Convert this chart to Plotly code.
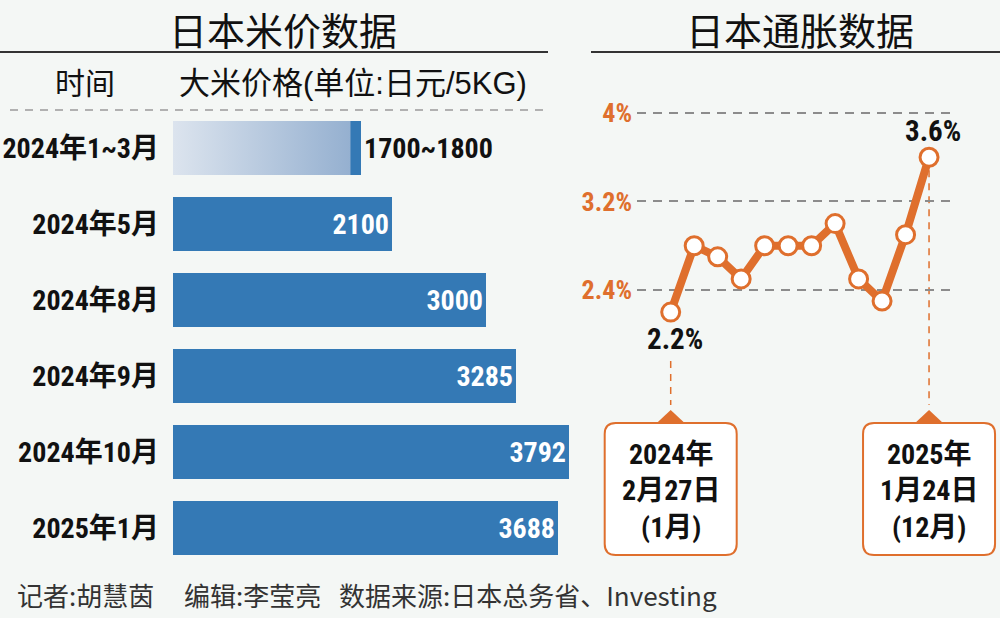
import plotly.graph_objects as go

W, H = 1000, 618

# ---------------- data ----------------
periods = ["2024年1~3月", "2024年5月", "2024年8月", "2024年9月", "2024年10月", "2025年1月"]
price_low = [1700, 2100, 3000, 3285, 3792, 3688]
price_high = [1800, 2100, 3000, 3285, 3792, 3688]

cpi_months = ["2024-01", "2024-02", "2024-03", "2024-04", "2024-05", "2024-06",
              "2024-07", "2024-08", "2024-09", "2024-10", "2024-11", "2024-12"]
cpi_values = [2.2, 2.8, 2.7, 2.5, 2.8, 2.8, 2.8, 3.0, 2.5, 2.3, 2.9, 3.6]
cpi_ticks = [2.4, 3.2, 4.0]
cpi_tick_text = ["2.4%", "3.2%", "4%"]

callout_index = [0, 11]
callout_lines = [["2024年", "2月27日", "(1月)"], ["2025年", "1月24日", "(12月)"]]

titles = ["日本米价数据", "日本通胀数据"]
headers = ["时间", "大米价格(单位:日元/5KG)"]
credits = ["记者:胡慧茵", "编辑:李莹亮", "数据来源:日本总务省、Investing"]

# ---------------- style ----------------
BG = "#F4F7F5"
BLUE = "#3479B5"
ORANGE = "#DF6F2D"
DASH_GRAY = "#9A9A9A"
INK = "#111111"
NARROW = "Roboto Condensed, Noto Sans CJK SC, sans-serif"
SANS = "Liberation Sans, Arial, Noto Sans CJK SC, sans-serif"
CJK = "Noto Sans CJK SC, sans-serif"


def px(x):
    return x / W


def py(y):
    return 1 - y / H


# bar panel geometry
BX_D = [0.173, 0.173 + 3800 * 0.1044 / W]
BX_R = [0, 3800]
BY_D = [py(566), py(110)]
BAR_W = 0.71

# line panel geometry
LX_D = [0.637, 0.953]
LX_R = [-1.435, 12.02]
LY_D = [py(330), py(100)]
LY_R = [2.0383, 4.1175]


def x2paper(i):
    return LX_D[0] + (i - LX_R[0]) / (LX_R[1] - LX_R[0]) * (LX_D[1] - LX_D[0])


def y2paper(v):
    return LY_D[0] + (v - LY_R[0]) / (LY_R[1] - LY_R[0]) * (LY_D[1] - LY_D[0])


fig = go.Figure()

# gradient part of range bars (0 -> low end)
gx, gy = [], []
for i, (lo, hi) in enumerate(zip(price_low, price_high)):
    if lo != hi:
        gx += [0, lo, lo, 0, 0, None]
        gy += [i - BAR_W / 2, i - BAR_W / 2, i + BAR_W / 2, i + BAR_W / 2, i - BAR_W / 2, None]
fig.add_trace(go.Scatter(
    x=gx, y=gy, mode="lines", fill="toself", line=dict(width=0, color="rgba(0,0,0,0)"),
    fillgradient=dict(type="horizontal", colorscale=[[0, "#DCE4EE"], [1, "#95B0D0"]]),
    hoverinfo="skip", showlegend=False, xaxis="x", yaxis="y",
))

bases = [lo if lo != hi else 0 for lo, hi in zip(price_low, price_high)]
lengths = [hi - b for hi, b in zip(price_high, bases)]
labels = [f"{lo}~{hi}" if lo != hi else f"{hi}" for lo, hi in zip(price_low, price_high)]
positions = ["outside" if lo != hi else "inside" for lo, hi in zip(price_low, price_high)]

fig.add_trace(go.Bar(
    y=list(range(len(periods))), x=lengths, base=bases, orientation="h", width=BAR_W,
    marker=dict(color=BLUE, line=dict(width=0)),
    text=labels, textposition=positions, insidetextanchor="end", textangle=0,
    insidetextfont=dict(family=NARROW, size=28, color="white", weight="bold"),
    outsidetextfont=dict(family=NARROW, size=28, color=INK, weight="bold"),
    constraintext="none", cliponaxis=False, hoverinfo="skip", showlegend=False,
    xaxis="x", yaxis="y",
))

fig.add_trace(go.Scatter(
    x=list(range(len(cpi_months))), y=cpi_values, mode="lines+markers",
    line=dict(color=ORANGE, width=8),
    marker=dict(size=18, color="white", line=dict(color=ORANGE, width=3)),
    cliponaxis=False, hoverinfo="skip", showlegend=False, xaxis="x2", yaxis="y2",
))

annotations = []
# titles
for t, cx in zip(titles, [283, 800]):
    annotations.append(dict(text=t, x=px(cx), y=py(28), xref="paper", yref="paper",
                            xanchor="center", yanchor="middle", showarrow=False,
                            font=dict(family=CJK, size=38, color=INK)))
# headers
annotations.append(dict(text=headers[0], x=px(85), y=py(84), xref="paper", yref="paper",
                        xanchor="center", yanchor="middle", showarrow=False,
                        font=dict(family=SANS, size=30, color=INK)))
annotations.append(dict(text=headers[1], x=px(177), y=py(84), xref="paper", yref="paper",
                        xanchor="left", yanchor="middle", showarrow=False,
                        font=dict(family=SANS, size=31, color=INK)))
# first / last inflation labels
annotations.append(dict(text=f"{cpi_values[0]}%", x=0, y=cpi_values[0], xref="x2", yref="y2",
                        xanchor="center", yanchor="middle", yshift=-27, xshift=4, showarrow=False,
                        font=dict(family=NARROW, size=29, color=INK, weight="bold")))
annotations.append(dict(text=f"{cpi_values[-1]}%", x=len(cpi_values) - 1, y=cpi_values[-1],
                        xref="x2", yref="y2", xanchor="center", yanchor="middle",
                        yshift=26, xshift=4, showarrow=False,
                        font=dict(family=NARROW, size=29, color=INK, weight="bold")))
# callout texts
for idx, lines in zip(callout_index, callout_lines):
    annotations.append(dict(text="<br>".join(lines), x=x2paper(idx), y=py(491), xref="paper", yref="paper",
                            xanchor="center", yanchor="middle", showarrow=False, align="center",
                            font=dict(family=NARROW, size=28, color=INK, weight="bold")))
# credits
for t, x0 in zip(credits, [15, 182, 337]):
    annotations.append(dict(text=t, x=px(x0), y=py(594), xref="paper", yref="paper",
                            xanchor="left", yanchor="middle", showarrow=False,
                            font=dict(family=CJK, size=26, color="#333333")))

shapes = []
shapes.append(dict(type="line", xref="paper", yref="paper", x0=px(0), x1=px(548), y0=py(52), y1=py(52),
                   line=dict(color="#333333", width=2)))
shapes.append(dict(type="line", xref="paper", yref="paper", x0=px(591), x1=px(1000), y0=py(52), y1=py(52),
                   line=dict(color="#333333", width=2)))
shapes.append(dict(type="line", xref="paper", yref="paper", x0=px(10), x1=px(548), y0=py(110), y1=py(110),
                   line=dict(color=DASH_GRAY, width=1.5, dash="8px,7px")))

# dashed leaders to callouts
shapes.append(dict(type="line", xref="paper", yref="paper", x0=x2paper(0), x1=x2paper(0),
                   y0=py(361), y1=py(405), layer="below",
                   line=dict(color=ORANGE, width=1.5, dash="7px,6px")))
last = len(cpi_values) - 1
shapes.append(dict(type="line", xref="paper", yref="paper", x0=x2paper(last), x1=x2paper(last),
                   y0=y2paper(cpi_values[last]), y1=py(405), layer="below",
                   line=dict(color=ORANGE, width=1.5, dash="7px,6px")))


def rounded_box(cx_paper, top, bottom, half_w, r):
    cx = cx_paper * W
    x0, x1 = cx - half_w, cx + half_w
    pts = [
        ("M", (x0 + r, top)), ("L", (x1 - r, top)), ("Q", (x1, top), (x1, top + r)),
        ("L", (x1, bottom - r)), ("Q", (x1, bottom), (x1 - r, bottom)),
        ("L", (x0 + r, bottom)), ("Q", (x0, bottom), (x0, bottom - r)),
        ("L", (x0, top + r)), ("Q", (x0, top), (x0 + r, top)),
    ]
    s = ""
    for p in pts:
        s += p[0] + " " + " ".join(f"{px(a):.5f},{py(b):.5f}" for a, b in p[1:]) + " "
    return s + "Z"


for idx in callout_index:
    cxp = x2paper(idx)
    cx = cxp * W
    shapes.append(dict(type="path", xref="paper", yref="paper",
                       path=f"M {px(cx - 15):.5f},{py(424):.5f} L {px(cx):.5f},{py(410):.5f} L {px(cx + 15):.5f},{py(424):.5f} Z",
                       fillcolor=ORANGE, line=dict(width=0)))
    shapes.append(dict(type="path", xref="paper", yref="paper",
                       path=rounded_box(cxp, 423, 555, 66, 11),
                       fillcolor="white", line=dict(color=ORANGE, width=2)))

fig.update_layout(
    template="none",
    width=W, height=H, margin=dict(l=0, r=0, t=0, b=0, pad=0), autosize=False,
    paper_bgcolor=BG, plot_bgcolor="rgba(0,0,0,0)",
    showlegend=False, bargap=0,
    xaxis=dict(domain=BX_D, range=BX_R, visible=False, fixedrange=True, automargin=False),
    yaxis=dict(domain=BY_D, range=[len(periods) - 0.5, -0.5], tickmode="array",
               tickvals=list(range(len(periods))), ticktext=periods, showgrid=False,
               zeroline=False, showline=False, ticks="", ticklabelstandoff=13, automargin=False,
               tickfont=dict(family=NARROW, size=28, color=INK, weight="bold"), fixedrange=True),
    xaxis2=dict(domain=LX_D, range=LX_R, visible=False, anchor="y2", fixedrange=True, automargin=False),
    yaxis2=dict(domain=LY_D, range=LY_R, anchor="x2", tickmode="array", tickvals=cpi_ticks,
                ticktext=cpi_tick_text, showgrid=True, gridcolor="#8C8C8C", gridwidth=1.5,
                griddash="9px,7px", zeroline=False, showline=False, ticks="", ticklabelstandoff=4,
                automargin=False,
                tickfont=dict(family=NARROW, size=26, color=ORANGE, weight="bold"), fixedrange=True),
    annotations=annotations, shapes=shapes,
)

fig.write_html("out.html", config={"displayModeBar": False},
               post_script="document.body.style.margin='0';")
